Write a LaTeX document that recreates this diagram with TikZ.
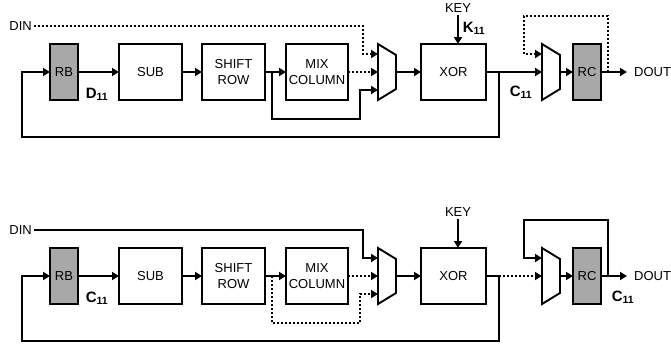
\documentclass[tikz,border=0pt]{standalone}
\usepackage{fontspec}
\setmainfont{Liberation Sans}
\usepackage{xcolor}
\usepackage{tikz}
\usetikzlibrary{arrows.meta,positioning}
\definecolor{regfill}{HTML}{A8A8A8}

\begin{document}
\begin{tikzpicture}[
  x=1pt,y=1pt,
  font=\fontsize{13}{15.5}\selectfont,
  blk/.style={draw,line width=1.9pt,outer sep=0pt,inner sep=1pt,
              minimum width=63pt,minimum height=56pt,align=center},
  reg/.style={blk,fill=regfill,minimum width=28pt},
  muxbox/.style={outer sep=0pt,inner sep=0pt,minimum width=18pt,minimum height=56pt},
  muxline/.style={line width=1.9pt,line join=miter},
  lbl/.style={inner sep=2pt},
  outlbl/.style={inner ysep=2pt,inner xsep=7pt},
  idx/.style={inner sep=0pt,font=\fontsize{15}{15}\selectfont\bfseries},
  w/.style={line width=1.9pt},
  a/.style={w,-{Triangle[length=7pt,width=8pt]}},
  dt/.style={dash pattern=on 2pt off 2pt}
]
\useasboundingbox (0,0) rectangle (671,-349);

% upper datapath
\node[reg] (rb1) at (64,-72) {RB};
\node[blk,right=41pt of rb1] (sub1) {SUB};
\node[blk,right=20pt of sub1] (shift1) {SHIFT\\ROW};
\node[blk,right=21pt of shift1,minimum width=62pt] (mix1) {MIX\\COLUMN};
\node[muxbox,right=30pt of mix1] (mux1) {};
\node[blk,right=25pt of mux1,minimum width=65pt] (xor1) {XOR};
\node[muxbox,right=56pt of xor1] (sel1) {};
\node[reg,right=13pt of sel1] (rc1) {RC};
\node[lbl,anchor=east] (din1) at (34,-26) {DIN};
\node[outlbl,right=26pt of rc1] (dout1) {DOUT};
\node[lbl] (key1) at (458,-8) {KEY};
\node[idx] (k1) at (474,-28) {K\textsubscript{11}};
\node[idx] (d1) at (97,-94) {D\textsubscript{11}};
\node[idx] (c1) at (521,-92) {C\textsubscript{11}};

\draw[muxline] (mux1.north west) -- ([yshift=-11pt]mux1.north east)
  -- ([yshift=11pt]mux1.south east) -- (mux1.south west) -- cycle;
\draw[muxline] (sel1.north west) -- ([yshift=-11pt]sel1.north east)
  -- ([yshift=11pt]sel1.south east) -- (sel1.south west) -- cycle;

\draw[a] (rb1) -- (sub1);
\draw[a] (sub1) -- (shift1);
\draw[a] (shift1) -- (mix1);
\draw[a,dt] (mix1) -- (mux1.west);
\draw[a,dt] (din1.east) -| ([xshift=-15pt,yshift=18pt]mux1.west)
  -- ([yshift=18pt]mux1.west);
\draw[a] ([xshift=7pt]shift1.east) -- ++(0,-47)
  -| ([xshift=-18pt,yshift=-18pt]mux1.west) -- ([yshift=-18pt]mux1.west);
\draw[a] (mux1.east) -- (xor1);
\draw[a] (key1.south) -- (key1.south |- xor1.north);
\draw[a] (xor1) -- (sel1.west);
\draw[a] ([xshift=13pt]xor1.east) -- ++(0,-65)
  -| ([xshift=-28pt]rb1.west) -- (rb1.west);
\draw[a] (sel1.east) -- (rc1);
\draw[a] (rc1) -- (dout1);
\draw[a,dt] ([xshift=7pt]rc1.east) -- ++(0,56)
  -| ([xshift=-18pt,yshift=18pt]sel1.west) -- ([yshift=18pt]sel1.west);

% lower datapath
\node[reg,below=148pt of rb1] (rb2) {RB};
\node[blk,below=148pt of sub1] (sub2) {SUB};
\node[blk,below=148pt of shift1] (shift2) {SHIFT\\ROW};
\node[blk,below=148pt of mix1,minimum width=62pt] (mix2) {MIX\\COLUMN};
\node[muxbox,below=148pt of mux1] (mux2) {};
\node[blk,below=148pt of xor1,minimum width=65pt] (xor2) {XOR};
\node[muxbox,below=148pt of sel1] (sel2) {};
\node[reg,below=148pt of rc1] (rc2) {RC};
\node[lbl,anchor=east] (din2) at (34,-230) {DIN};
\node[outlbl,right=26pt of rc2] (dout2) {DOUT};
\node[lbl] (key2) at (458,-212) {KEY};
\node[idx] (c2) at (97,-298) {C\textsubscript{11}};
\node[idx] (c3) at (623,-297) {C\textsubscript{11}};

\draw[muxline] (mux2.north west) -- ([yshift=-11pt]mux2.north east)
  -- ([yshift=11pt]mux2.south east) -- (mux2.south west) -- cycle;
\draw[muxline] (sel2.north west) -- ([yshift=-11pt]sel2.north east)
  -- ([yshift=11pt]sel2.south east) -- (sel2.south west) -- cycle;

\draw[a] (rb2) -- (sub2);
\draw[a] (sub2) -- (shift2);
\draw[a] (shift2) -- (mix2);
\draw[a,dt] (mix2) -- (mux2.west);
\draw[a] (din2.east) -| ([xshift=-15pt,yshift=18pt]mux2.west)
  -- ([yshift=18pt]mux2.west);
\draw[a,dt] ([xshift=7pt]shift2.east) -- ++(0,-47)
  -| ([xshift=-18pt,yshift=-18pt]mux2.west) -- ([yshift=-18pt]mux2.west);
\draw[a] (mux2.east) -- (xor2);
\draw[a] (key2.south) -- (key2.south |- xor2.north);
\draw[w] (xor2.east) -- ([xshift=13pt]xor2.east);
\draw[a,dt] ([xshift=13pt]xor2.east) -- (sel2.west);
\draw[a] ([xshift=13pt]xor2.east) -- ++(0,-65)
  -| ([xshift=-28pt]rb2.west) -- (rb2.west);
\draw[a] (sel2.east) -- (rc2);
\draw[a] (rc2) -- (dout2);
\draw[a] ([xshift=7pt]rc2.east) -- ++(0,56)
  -| ([xshift=-18pt,yshift=18pt]sel2.west) -- ([yshift=18pt]sel2.west);
\end{tikzpicture}
\end{document}
